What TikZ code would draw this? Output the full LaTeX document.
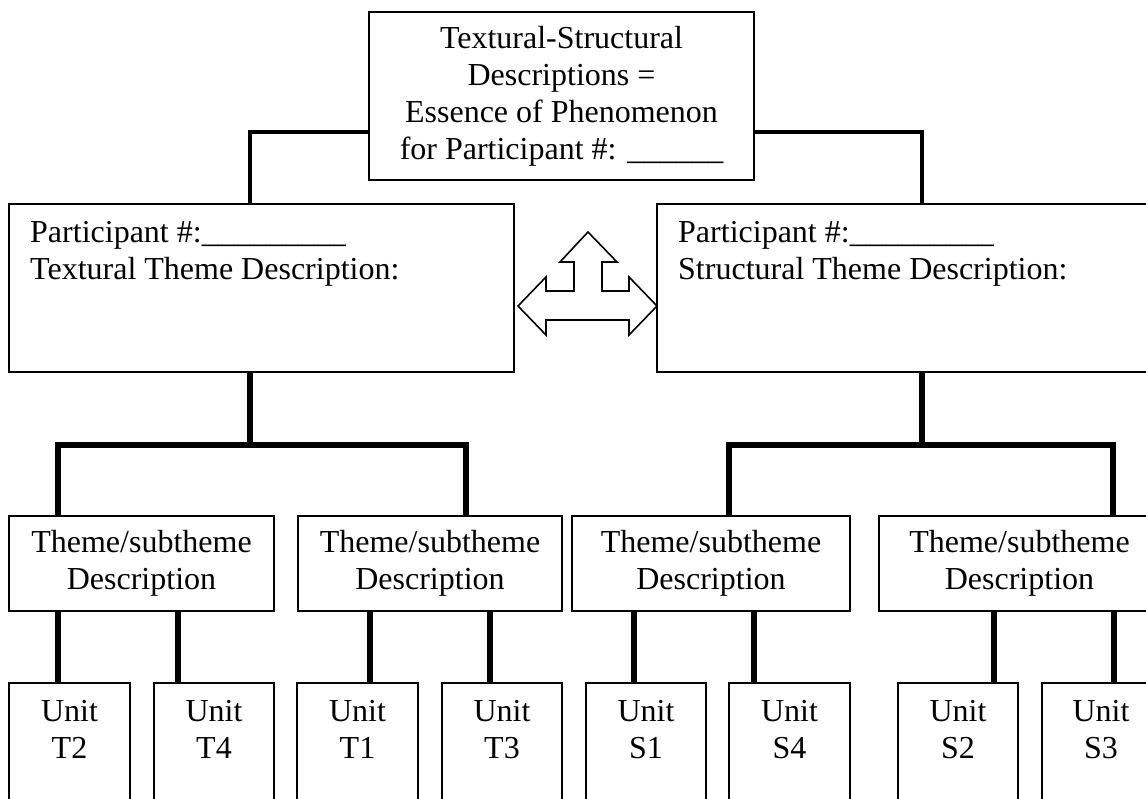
\documentclass[tikz,border=0pt]{standalone}
\usepackage{fontspec}
\setmainfont{Liberation Serif}
\begin{document}
\begin{tikzpicture}[x=1pt,y=-1pt,
  box/.style={draw, line width=1.6pt, fill=white, inner sep=0pt, align=center},
  lbl/.style={inner sep=0pt, align=center},
  upconn/.style={line width=3.2pt},
  lowconn/.style={line width=5.5pt},
  font=\fontsize{32}{37}\selectfont]
\useasboundingbox (0,0) rectangle (1146,799);

% essence box
\node[box, minimum width=385pt, minimum height=168pt] (top) at (561.5,96)
  {Textural-Structural\\Descriptions =\\Essence of Phenomenon\\for Participant \#: \_\_\_\_\_\_};

% textural and structural description boxes
\node[box, minimum width=505pt, minimum height=168pt] (tex) at (261.5,288) {};
\node[box, minimum width=503pt, minimum height=168pt] (str) at (908.5,288) {};
\node[lbl, align=left, anchor=north west] (texlbl) at (30,221)
  {Participant \#:\_\_\_\_\_\_\_\_\_\\Textural Theme Description:};
\node[lbl, align=left, anchor=north west] (strlbl) at (678,221)
  {Participant \#:\_\_\_\_\_\_\_\_\_\\Structural Theme Description:};

% theme / subtheme boxes
\node[box, minimum width=265pt, minimum height=95pt] (th1) at (141.5,563.5) {Theme/subtheme\\Description};
\node[box, minimum width=264pt, minimum height=95pt] (th2) at (430,563.5) {Theme/subtheme\\Description};
\node[box, minimum width=278pt, minimum height=95pt] (th3) at (711,563.5) {Theme/subtheme\\Description};
\node[box, minimum width=281pt, minimum height=95pt] (th4) at (1019.5,563.5) {Theme/subtheme\\Description};

% unit boxes (open towards the bottom edge)
\foreach \nm/\cx/\w in {t2/69.5/121, t4/214/120, t1/357.5/121, t3/502/120,
                        s1/646/120, s4/789.5/121, s2/958/120, s3/1101/118}
  \node[box, minimum width=\w pt, minimum height=132pt] (\nm) at (\cx,749) {};
\foreach \nm/\tx in {t2/T2, t4/T4, t1/T1, t3/T3, s1/S1, s4/S4, s2/S2, s3/S3}
  \node[lbl, anchor=north, yshift=-18pt] (\nm lbl) at (\nm.north) {Unit\\\tx};

% connectors from the essence box
\draw[upconn] ([yshift=-36pt]top.west) -| ([xshift=-11.5pt]tex.north);
\draw[upconn] ([yshift=-36pt]top.east) -| ([xshift=13.5pt]str.north);

% branching bars below the description boxes
\coordinate (barT) at ([xshift=-11.5pt,yshift=-72pt]tex.south);
\coordinate (barS) at ([xshift=13.5pt,yshift=-72pt]str.south);
\draw[lowconn] (tex.south -| barT) -- (barT);
\draw[lowconn] (str.south -| barS) -- (barS);
\draw[lowconn] ([xshift=-83.5pt]th1.north) |- (barT) -| ([xshift=36pt]th2.north);
\draw[lowconn] ([xshift=18pt]th3.north) |- (barS) -| ([xshift=93.5pt]th4.north);

% theme to unit connectors
\coordinate (cT2) at ([xshift=-11.5pt]t2.north);
\coordinate (cT4) at ([xshift=-36pt]t4.north);
\coordinate (cT1) at ([xshift=12.5pt]t1.north);
\coordinate (cT3) at ([xshift=-12pt]t3.north);
\coordinate (cS1) at ([xshift=-12pt]s1.north);
\coordinate (cS4) at ([xshift=-35.5pt]s4.north);
\coordinate (cS2) at ([xshift=36pt]s2.north);
\coordinate (cS3) at ([xshift=13pt]s3.north);
\draw[lowconn] (cT2) -- (cT2 |- th1.south);
\draw[lowconn] (cT4) -- (cT4 |- th1.south);
\draw[lowconn] (cT1) -- (cT1 |- th2.south);
\draw[lowconn] (cT3) -- (cT3 |- th2.south);
\draw[lowconn] (cS1) -- (cS1 |- th3.south);
\draw[lowconn] (cS4) -- (cS4 |- th3.south);
\draw[lowconn] (cS2) -- (cS2 |- th4.south);
\draw[lowconn] (cS3) -- (cS3 |- th4.south);

% three-way block arrow between the description boxes
\draw[line width=1.6pt, fill=white, line join=miter]
  (518,306) -- (546,277) -- (546,291) -- (574,291) -- (574,262) -- (560,262)
  -- (588,232) -- (617,262) -- (602,262) -- (602,291) -- (629,291) -- (629,277)
  -- (657,306) -- (629,335) -- (629,320) -- (546,320) -- (546,335) -- cycle;
\end{tikzpicture}
\end{document}
